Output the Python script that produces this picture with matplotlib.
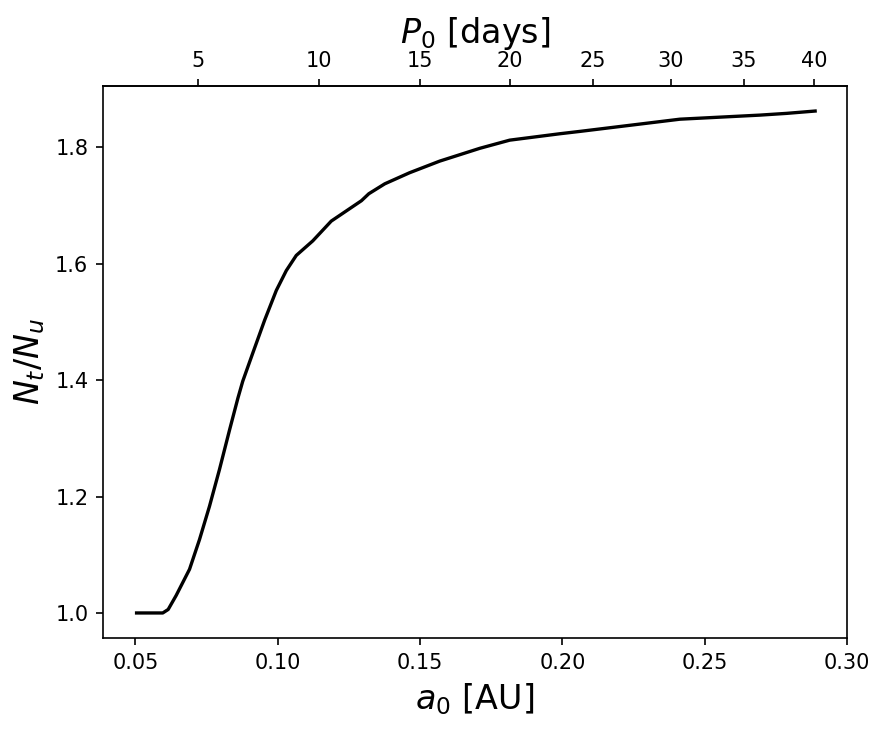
import numpy as np
import matplotlib
matplotlib.use("Agg")
import matplotlib.pyplot as plt

# semieje inicial [AU] y cociente N_t/N_u
a0 = [0.0504, 0.0596, 0.0615, 0.0643, 0.0690, 0.0725, 0.0760, 0.0795,
      0.0831, 0.0860, 0.0877, 0.0912, 0.0954, 0.0995, 0.1030, 0.1065,
      0.1123, 0.1188, 0.1294, 0.1320, 0.1376, 0.1463, 0.1569, 0.1710,
      0.1815, 0.1991, 0.2061, 0.2413, 0.2694, 0.2788, 0.2888]
ratio = [1.000, 1.000, 1.006, 1.030, 1.075, 1.126, 1.183, 1.246,
         1.315, 1.369, 1.398, 1.446, 1.503, 1.554, 1.588, 1.614,
         1.639, 1.673, 1.708, 1.720, 1.737, 1.756, 1.776, 1.798,
         1.812, 1.823, 1.827, 1.848, 1.855, 1.858, 1.862]
p_ticks = [5, 10, 15, 20, 25, 30, 35, 40]

# periodo en dias para una estrella de 2 masas solares
K = 365.25 / np.sqrt(2.0)

def a_to_p(a):
    return K * np.abs(a) ** 1.5

def p_to_a(p):
    return (np.abs(p) / K) ** (2.0 / 3.0)

fig = plt.figure(figsize=(885 / 150, 731 / 150), dpi=150)
ax = fig.add_axes([103 / 885, 93 / 731, 744 / 885, 552 / 731])
ax.plot(a0, ratio, color="black", lw=1.6)
ax.set_xlim(0.0386, 0.2999)
ax.set_ylim(0.957, 1.905)
ax.set_xticks([0.05, 0.10, 0.15, 0.20, 0.25, 0.30])
ax.set_yticks([1.0, 1.2, 1.4, 1.6, 1.8])
ax.set_xlabel(r"$a_0$ [AU]", fontsize=16)
ax.set_ylabel(r"$N_t/N_u$", fontsize=16)

# eje superior con el periodo
top = ax.secondary_xaxis("top", functions=(a_to_p, p_to_a))
top.set_xticks(p_ticks)
top.set_xlabel(r"$P_0$ [days]", fontsize=16)

fig.savefig("out.png", dpi=150)
